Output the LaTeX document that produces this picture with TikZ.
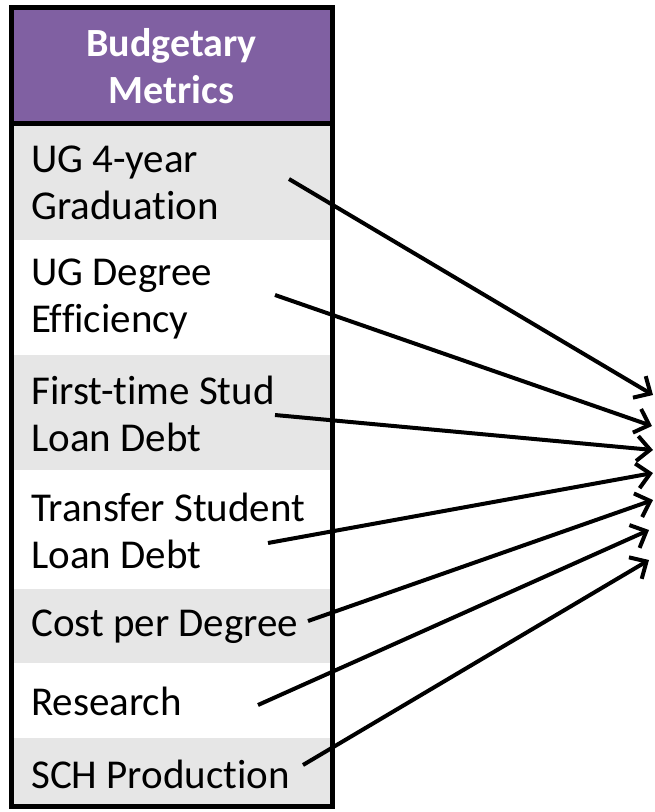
\documentclass[tikz,border=0pt]{standalone}
\usepackage{fontspec}
\setmainfont[Ligatures=NoCommon]{Carlito}
\usetikzlibrary{arrows.meta}
\definecolor{hdr}{RGB}{128,96,162}
\definecolor{rowgray}{RGB}{230,230,230}
\begin{document}
\begin{tikzpicture}[x=1pt,y=-1pt,
  rowbox/.style={draw=none, minimum width=321pt, inner sep=0pt, anchor=north west},
  lbl/.style={anchor=west, align=left, inner sep=0pt, font=\fontsize{41}{47}\selectfont},
  hlbl/.style={align=center, inner sep=0pt, text=white, font=\fontsize{40}{47}\selectfont\bfseries},
  link/.style={line width=4pt, -{Straight Barb[length=13pt,width=25pt,line width=4pt]}}]
\useasboundingbox (0,0) rectangle (655,812);
% rows
\node (hd) [rowbox, fill=hdr, minimum height=118pt] at (11,6) {};
\node (r1) [rowbox, fill=rowgray, minimum height=116pt] at (11,124) {};
\node (r2) [rowbox, fill=white, minimum height=115pt] at (11,240) {};
\node (r3) [rowbox, fill=rowgray, minimum height=115pt] at (11,355) {};
\node (r4) [rowbox, fill=white, minimum height=119pt] at (11,470) {};
\node (r5) [rowbox, fill=rowgray, minimum height=74pt] at (11,589) {};
\node (r6) [rowbox, fill=white, minimum height=75pt] at (11,663) {};
\node (r7) [rowbox, fill=rowgray, minimum height=70pt] at (11,738) {};
% border
\draw[line width=5pt] (11.5,7) rectangle (332,806);
\draw[line width=5pt] (11.5,123) -- (332,123);
% texts
\node (th) [hlbl] at (171.5,66) {Budgetary\\Metrics};
\node (t1) [lbl] at (31,183) {UG 4-year\\Graduation};
\node (t2) [lbl] at (31,298.5) {UG Degree\\Efficiency};
\node (t3) [lbl] at (31,414) {First-time Stud\\Loan Debt};
\node (t4) [lbl] at (31,531) {Transfer Student\\Loan Debt};
\node (t5) [lbl] at (31,627) {Cost per Degree};
\node (t6) [lbl] at (31,701) {Research};
\node (t7) [lbl] at (31,774) {SCH Production};
% arrow coordinates
\coordinate (s1) at (289,179);
\coordinate (s2) at (275,295);
\coordinate (s3) at (275,415);
\coordinate (s4) at (268,543);
\coordinate (s5) at (308,621);
\coordinate (s6) at (258,705);
\coordinate (s7) at (303,765);
\coordinate (e1) at (653,395);
\coordinate (e2) at (652,426);
\coordinate (e3) at (653,450);
\coordinate (e4) at (653,473);
\coordinate (e5) at (653,500);
\coordinate (e6) at (649,530);
\coordinate (e7) at (649,560);
\foreach \i in {1,...,7} \draw[link] (s\i) -- (e\i);
\end{tikzpicture}
\end{document}
